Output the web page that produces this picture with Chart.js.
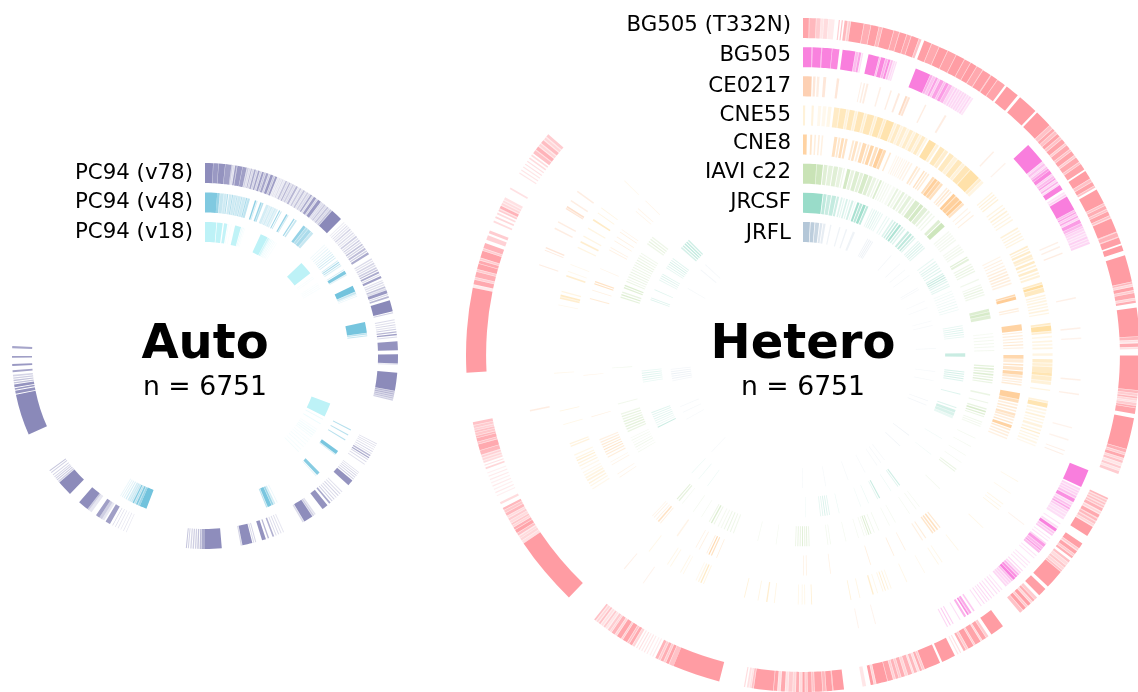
<!DOCTYPE html>
<html>
<head>
<meta charset="utf-8">
<script src="https://cdn.jsdelivr.net/npm/chart.js@4"></script>
<style>
html,body{margin:0;padding:0;background:#fff;overflow:hidden;width:1138px;height:692px}
#page{position:relative;width:1138px;height:692px;overflow:hidden;font-family:"DejaVu Sans",sans-serif;color:#000}
canvas{position:absolute}
.t{position:absolute;white-space:nowrap;line-height:1}
.lab{font-size:21.33px;transform:translate(-100%,-50%)}
.big{font-size:48px;font-weight:bold;transform:translate(-50%,-50%)}
.n{font-size:26.67px;transform:translate(-50%,-50%)}
</style>
</head>
<body>
<div id="page">
<canvas id="auto"></canvas>
<canvas id="hetero"></canvas>
</div>
<script>
// Each ring is a flat list: arc start (deg clockwise from top), arc end, intensity 0..1
const autoLabels = ["PC94 (v78)", "PC94 (v48)", "PC94 (v18)"];
const heteroLabels = ["BG505 (T332N)", "BG505", "CE0217", "CNE55", "CNE8", "IAVI c22", "JRCSF", "JRFL"];
const autoColors = ["136,135,184", "114,195,221", "189,242,247"];
const heteroColors = ["255,154,161", "249,123,220", "252,196,160", "255,222,160", "255,200,140", "198,226,178", "147,218,198", "176,196,214"];
const titles = ["Auto", "Hetero"];
const counts = [6751, 6751];

const v78 = [0,2.4,.95, 2.5,4,.85, 4.1,6,.9, 6.1,7.9,.8, 7.9,8.3,.4, 8.5,8.8,.3, 9,9.5,.8, 9.7,11.2,.85, 11.3,12.5,.8,
 12.7,13.1,.4, 13.3,13.6,.3, 13.8,14.1,.6, 14.3,14.6,.35, 14.8,15.3,.7, 15.5,15.8,.4, 16,16.5,.75, 16.7,17,.4, 17.2,17.8,.8, 18,18.3,.5, 18.5,19.2,.75, 19.4,19.7,.4, 19.9,20.7,.85, 20.9,21.2,.5, 21.4,22,.8,
 22.2,22.5,.2, 22.7,23,.25, 23.2,23.5,.2, 23.7,24,.3, 24.2,24.5,.2, 24.7,25.2,.5, 25.4,25.7,.3, 25.9,26.3,.6, 26.5,26.8,.3, 27,27.5,.4, 27.7,28,.3, 28.2,28.8,.6, 29,29.3,.2, 29.5,30,.45, 30.2,30.5,.25, 30.7,31.2,.5, 31.4,31.7,.25, 31.9,32.4,.4,
 32.6,33,.3, 33.2,33.7,.7, 33.9,34.2,.3, 34.4,35.2,.8, 35.4,35.7,.4, 35.9,36.9,.85, 37.1,37.4,.3,
 37.6,38,.3, 38.2,38.6,.45, 38.8,39.1,.3, 39.3,39.8,.5, 40,40.3,.35, 40.5,41,.5, 41.2,44.8,.98,
 46,46.3,.15, 46.7,47,.2, 47.4,47.7,.3, 48,48.4,.2, 48.7,49.1,.35, 49.4,49.8,.2, 50.1,50.5,.3, 50.8,51.2,.2, 51.5,52,.4, 52.3,52.7,.25, 53,53.4,.4, 53.7,54.1,.3, 54.4,54.9,.5, 55.2,55.6,.35, 55.9,56.5,.55, 56.8,57.2,.4, 57.5,58.2,.7,
 59.6,60,.3, 60.3,60.7,.25, 61,61.5,.35, 61.8,62.2,.3, 62.5,63,.4, 63.3,63.7,.55, 64,64.6,.7, 64.9,65.2,.3, 65.5,66.2,.8,
 66.8,67.1,.25, 67.4,67.8,.3, 68.1,68.5,.25, 68.8,69.3,.5, 69.5,69.9,.3, 70.1,71,.85, 71.3,71.6,.35, 71.9,72.4,.6,
 73.2,76.6,.98, 76.9,77.2,.4,
 79,79.3,.3, 79.8,80.1,.25, 80.5,80.8,.35, 81.2,81.5,.25, 81.9,82.2,.4, 82.6,83,.6, 83.4,83.8,.8, 84.2,84.5,.3,
 85.6,88.3,.9, 89.5,92.2,.95, 92.4,92.7,.2,
 95,100.4,.97, 100.6,101,.6, 101.2,101.6,.6, 101.8,102.2,.55, 102.4,102.8,.5, 103,103.4,.4,
 117,117.2,.3, 117.6,117.8,.35, 118.2,118.4,.3, 118.9,119.1,.3, 119.6,119.8,.4, 120.3,120.5,.3, 120.9,121.3,.6, 121.6,122,.7, 122.3,122.6,.35, 123.1,123.4,.3, 124,124.3,.25,
 127,127.2,.3, 127.6,127.8,.35, 128.2,128.4,.4, 128.8,129.1,.35, 129.5,129.8,.4, 130.2,132,.9,
 134.6,134.9,.25, 135.4,135.7,.3, 136.2,136.5,.35, 137,137.3,.3, 137.8,138.1,.35, 138.6,138.9,.4, 139.4,139.9,.7, 140.6,142.5,.9,
 145,145.4,.25, 145.6,146,.4, 146.2,149,.95, 149.2,149.6,.3,
 155.8,156.1,.2, 156.6,156.9,.25, 157.4,157.7,.3, 158.2,158.5,.3, 159,159.5,.65, 160.6,161,.6, 161.6,162.8,.9,
 164.6,164.9,.35, 165.2,165.5,.3, 165.8,168.8,.95, 169,169.3,.35,
 175,180,.95, 180,181,.7, 181.2,181.6,.55, 181.9,182.3,.5, 182.6,183,.4, 183.3,183.7,.4, 184,184.4,.35, 184.8,185.1,.4, 185.4,185.7,.5,
 204,204.2,.2, 204.9,205.1,.25, 205.8,206,.2, 206.7,206.9,.25, 207.6,207.8,.3, 208.5,208.7,.35, 209.5,211,.8,
 211.5,212.3,.2, 212.3,213.2,.4, 213.2,214.4,.8,
 216,217,.2, 217,217.5,.4, 217.5,220.7,.95,
 224.4,229,.97, 229.2,229.6,.4, 229.9,230.2,.45, 230.5,230.8,.4, 231.1,231.4,.35, 231.8,232.1,.35, 232.7,233,.4, 233.4,233.7,.5,
 246,258.4,.98, 258.7,259.6,.9, 259.9,260.4,.85, 260.7,261.5,.9, 261.8,262.2,.5, 262.5,262.9,.5, 263.2,263.6,.4, 263.9,264.4,.35, 265.2,265.8,.75, 267,267.6,.85, 269.5,270,.8, 272.3,273,.75];

const v48 = [0,4.3,.9, 4.3,5.2,.7, 5.4,6.6,.4, 6.8,7.6,.35, 7.8,8.2,.55, 8.5,9.4,.35, 9.6,9.9,.6, 10.1,11,.35, 11.2,11.5,.5, 11.7,12.7,.35, 12.9,13.2,.55, 13.4,14.4,.35, 14.6,15,.6, 15.2,16,.45,
 17.8,18.3,.8, 18.5,18.8,.3, 19.8,20.3,.7, 20.5,21,.5,
 22,23,.3, 23.2,23.6,.25, 23.8,24.4,.3, 24.6,25,.25, 25.2,25.8,.3, 26,26.5,.25, 27,27.4,.7, 27.7,28,.4, 29.8,30.3,.75, 30.5,30.8,.35, 32.8,33.3,.65, 33.6,34.2,.4,
 37,38,.75, 38.2,39,.55, 39.2,40.4,.6, 40.6,41.5,.4,
 47,47.3,.12, 47.9,48.2,.15, 48.8,49.1,.2, 49.7,50,.2, 50.5,50.8,.25, 51.3,51.6,.3, 52.1,52.4,.35, 52.9,53.2,.35,
 54.2,54.5,.3, 54.8,55.2,.6, 55.5,55.9,.5, 56.2,56.6,.25, 58,58.3,.3, 58.6,59.8,.9, 60,60.4,.2,
 64.6,66.8,1, 67,67.6,.4, 67.8,68.1,.2, 68.4,68.7,.15,
 78,81.8,.97, 82,82.4,.5, 82.7,83.1,.4,
 116.7,117.1,.55, 118.7,119.1,.5, 120.7,121.1,.5,
 125.5,126.8,.95, 127,127.3,.3, 135.5,136.7,.85, 137,137.3,.2,
 153.6,153.9,.15, 154.5,155,.3, 155.2,155.8,.7, 156,157.4,.95, 157.6,158,.5,
 201,203.5,1, 203.5,204.2,.7, 204.4,205,.9, 205.2,205.6,.5, 205.8,206.3,.85, 206.5,206.9,.4, 207.1,207.6,.35, 207.8,208.3,.3, 208.7,209.1,.3, 209.5,209.9,.2, 210.3,210.6,.2, 211,211.3,.15];

const v18 = [0,4.9,1, 5.2,7.6,.95, 8.2,9.6,.9, 10,10.3,.15, 11.2,11.4,.15,
 13,15.6,.95, 15.9,16.3,.3, 16.6,16.9,.2, 17.2,17.5,.1,
 24.6,27.8,1, 28,28.6,.7, 28.8,29.2,.4, 29.5,29.8,.3, 30.1,30.4,.25, 30.8,31.1,.2, 31.5,31.8,.15, 32.3,32.6,.12,
 46,51.8,1, 53.6,53.9,.12, 54.4,54.7,.12, 57,57.3,.1, 57.8,58.1,.12, 58.6,58.9,.12, 59.4,59.7,.12,
 110.8,116.8,1, 118,118.4,.3, 120.2,120.6,.3, 123,123.4,.12, 124,124.5,.18, 125,125.5,.2, 126,126.5,.2, 127,127.4,.15, 128.5,128.9,.12, 129.6,130,.15, 131,131.4,.15, 132.4,132.8,.15, 134,134.4,.15, 135.4,135.8,.2];

const ring0 = [0,1,.9, 1.1,2.2,.7, 2.3,3,.5, 3.1,3.5,.25, 3.6,4.3,.35, 4.4,5.4,.2,
 6.1,6.3,.5, 6.6,6.8,.6, 7.1,7.6,.7, 7.8,8.1,.5, 8.2,10.4,.95, 10.5,11.6,.8, 11.7,13,.95, 13.1,13.6,.7, 13.7,15.6,.95, 15.7,16.6,.85, 16.7,17.9,.95, 18,18.7,.85, 18.8,20.1,.95, 20.2,20.6,.6, 21.1,22.4,.95, 22.5,23.8,.85, 23.9,25.4,.97, 25.5,27,.9, 27.1,28.6,.97, 28.7,29.8,.9, 29.9,31,.97, 31.1,32.2,.85, 32.3,33.8,.95, 34,35.2,.97, 35.3,36.8,.9, 37.2,39.6,.97, 40.1,43.6,.98, 44,47,.98,
 47.1,47.7,.6, 47.8,48.3,.85, 48.4,48.9,.6, 49,49.6,.9, 49.7,50.1,.6, 50.2,51,.9, 51.1,51.4,.5, 51.5,52.3,.85, 52.4,52.7,.6, 52.8,53.6,.9, 53.7,54,.5, 54.1,55,.85, 55.1,55.4,.6, 55.5,56.6,.9, 56.9,58.4,.97, 58.5,59,.6, 59.1,59.8,.9, 59.9,60.2,.6, 60.6,63.2,.97, 63.3,63.6,.6, 63.7,64.3,.8, 64.4,64.7,.6, 64.8,65.5,.9, 65.6,65.9,.6, 66.1,68.5,.97, 68.7,69.4,.75, 69.6,70.7,.95, 71,72,.98, 72.8,77.4,.98, 77.5,77.8,.7, 77.9,78.2,.4, 78.3,78.9,.9, 79,79.3,.5, 79.4,80.2,.85, 80.3,80.6,.4, 80.7,81.1,.8,
 81.9,86.8,.98, 86.9,87.4,.7, 87.5,87.8,.3, 88,88.6,.8, 88.7,89,.3,
 90.1,96,.98, 96.1,96.5,.7, 96.6,97,.5, 97.1,97.4,.7, 97.5,97.8,.4, 97.9,98.1,.3, 98.2,98.6,.5, 98.7,99,.8, 99.1,100.1,.9,
 100.8,106.2,.98, 106.3,106.8,.8, 106.9,107.2,.5, 107.3,107.8,.85, 107.9,108.2,.4, 108.3,108.7,.6, 108.8,109.2,.25, 109.3,109.7,.5, 109.8,110.1,.25, 110.2,110.7,.5,
 115.1,115.4,.7, 115.6,115.9,.55, 116.1,116.4,.6, 116.6,116.9,.6, 117.1,117.6,.75, 117.8,118.1,.4, 118.3,118.9,.85, 119.1,119.5,.7, 119.7,120.1,.6, 120.2,120.5,.4, 120.7,122.5,.98,
 124,125,.95, 125.1,125.4,.5, 125.6,126.2,.9, 126.3,126.6,.5, 126.7,127.1,.8,
 127.6,128,.6, 128.1,128.6,.35, 128.7,129.1,.55, 129.2,129.6,.4, 129.7,130,.6, 130.1,133.4,.98,
 134,135.5,.95, 136,136.5,.5, 136.6,137,.8, 137.1,137.4,.4, 137.5,138.1,.95, 138.2,138.5,.5, 138.6,139.2,.95, 139.3,139.9,.6,
 143.6,146,.98, 146.6,147,.5, 147.1,147.8,.9, 147.9,148.1,.4, 148.2,149.2,.9, 149.3,149.5,.5, 149.6,150.6,.95, 150.7,151,.5, 151.1,151.5,.8, 152,152.2,.3, 152.5,152.7,.25,
 153.2,155.6,.98, 156,158.8,.98, 158.9,159.2,.5, 159.3,159.7,.8, 159.8,160.1,.3, 160.2,160.7,.7, 160.8,161,.3, 161.1,161.8,.75, 161.9,162.3,.4, 162.4,163,.8, 163.1,163.4,.5, 163.5,164,.75, 164.1,164.4,.45, 164.5,165.4,.9, 165.5,167.4,.98, 167.5,167.8,.4, 167.9,168.4,.98,
 169.2,169.8,.25,
 173,174.8,.98, 175,176,.95, 176.1,176.6,.7, 176.7,178,.9, 178.1,178.4,.6, 178.5,179.2,.85, 179.3,179.6,.5, 179.7,180.1,.9, 180.2,180.6,.35, 180.7,181.2,.8, 181.3,181.7,.4, 181.8,182.5,.5, 182.6,183,.3, 183.1,183.8,.85, 183.9,184.3,.3, 184.4,185,.9, 185.1,188.4,.95, 188.5,188.8,.6, 188.9,189.1,.3, 189.3,189.6,.3, 189.9,190.1,.35,
 194.4,202.6,.98, 202.6,203.4,.6, 203.5,204,.9, 204.1,204.4,.5, 204.5,205,.8, 205.1,205.4,.5, 205.5,206,.75, 206.4,206.6,.2, 206.9,207.1,.15, 207.5,207.7,.2, 208,208.2,.25, 208.5,208.7,.2, 209,209.2,.3, 209.5,209.7,.25, 210,210.4,.4, 210.5,211,.85, 211.1,211.4,.6, 211.5,212.3,.9, 212.4,212.6,.5, 212.7,213.5,.9, 213.6,213.9,.4, 214,214.6,.75, 214.7,214.9,.4, 215,215.4,.5, 215.6,215.9,.25, 216,216.3,.5, 216.5,216.8,.3, 217,217.3,.6, 217.5,217.8,.4, 218,218.3,.6,
 224,236,.98, 236,236.5,.3, 236.6,237,.4, 237.1,237.4,.35, 237.6,238,.6, 238.1,238.7,.9, 238.8,239.2,.8, 239.3,239.6,.4, 239.7,240,.55, 240.1,240.5,.35, 240.6,241,.5, 241.1,241.4,.35, 241.5,242,.7, 242.1,242.5,.55, 242.6,243,.7,
 243.7,244.1,.35, 245.2,245.4,.15, 245.8,246,.2, 246.4,246.6,.15, 247,247.2,.2, 247.6,247.8,.15, 248.2,248.4,.2, 248.8,249,.2, 249.4,249.6,.15,
 250.2,250.5,.4, 250.8,251,.3, 251.3,251.6,.35, 251.8,252.1,.4, 252.3,252.6,.45, 252.8,253.5,.7, 253.6,254.6,.85, 254.7,255,.6, 255.1,255.7,.8, 255.8,256.1,.7, 256.2,256.6,.55, 256.7,257,.6, 257.1,257.4,.45, 257.5,257.9,.5, 258,258.5,.6,
 267,281.5,.98, 281.5,282,.2, 282.1,282.9,.85, 283,283.3,.45, 283.4,284.3,.8, 284.4,284.7,.5, 284.8,285.7,.9, 285.8,286.3,.85, 286.4,286.7,.5, 286.8,288,.92, 288.1,288.4,.5, 288.5,289.4,.75,
 290,290.8,.45, 291.2,291.7,.5, 293.2,293.5,.35, 294,294.3,.4, 294.7,295,.35, 295.3,295.6,.5, 295.8,296.3,.75, 296.5,296.8,.4, 297,297.3,.35, 297.5,297.9,.3, 299.5,299.8,.3,
 302.6,302.8,.25, 303.2,303.4,.25, 303.8,304,.25, 304.4,304.6,.3, 305,305.2,.3, 305.6,305.9,.35, 306.2,306.5,.35, 306.8,307.4,.6, 307.6,308.2,.75, 308.4,308.8,.4, 309,309.6,.65, 309.8,310.2,.4, 310.4,310.9,.5];

const ring1 = [0,1.6,.95, 1.8,3.4,.95, 3.6,5.4,.95, 5.5,6.8,.9,
 7.4,9.8,.98, 9.9,10.4,.5, 10.5,10.9,.7, 11.1,11.3,.25,
 12.3,14.3,.97, 14.4,14.6,.5, 14.7,15.5,.9, 15.6,16,.6, 16.1,16.5,.85, 16.7,17,.5, 17.2,17.4,.3, 17.6,17.8,.25,
 21.5,24.4,.98, 24.5,24.9,.6, 25,25.5,.45, 25.6,26,.7, 26.1,26.4,.4, 26.5,27.2,.7, 27.3,27.6,.5, 27.7,28.3,.75, 28.4,29,.55, 29.1,29.6,.3, 29.8,30.1,.35, 30.3,30.6,.3, 30.8,31.1,.3, 31.3,31.6,.3, 31.8,32.1,.3, 32.3,32.6,.25, 32.8,33.1,.3, 33.3,33.6,.2,
 47,51,.98, 51.1,51.4,.3, 51.5,51.9,.45, 52,52.2,.3, 52.3,52.6,.5, 52.7,53.1,.75, 53.2,53.9,.9, 54,54.3,.35, 54.4,54.8,.5, 54.9,55.2,.7, 55.3,55.6,.3, 55.7,56,.6, 56.2,56.4,.3, 56.5,57.5,.95,
 58,58.3,.2, 58.5,58.8,.35, 59,61.8,.98, 61.9,62.2,.5, 62.3,62.6,.7, 62.7,63,.4, 63.1,63.4,.65, 63.5,63.8,.3, 63.9,64.6,.75, 64.7,65.2,.55, 65.3,65.6,.4, 65.7,66.1,.3, 66.3,66.6,.3, 66.8,67.1,.25, 67.3,67.7,.35, 67.9,68.2,.3, 68.4,68.8,.3,
 112,115.4,.98, 115.7,116.1,.3, 116.3,116.6,.35, 116.8,117.1,.35, 117.3,117.7,.45, 117.9,118.6,.85, 118.8,119.1,.3, 119.3,119.6,.5, 119.8,120.1,.65, 120.3,120.6,.4, 120.8,121.1,.25, 121.3,121.7,.25, 121.9,122.3,.25,
 123.2,123.4,.2, 123.9,124.2,.25, 124.4,125,.95, 125.2,125.5,.45, 125.7,126,.4, 126.5,126.7,.2, 127.1,127.3,.2, 127.7,128,.3,
 128,128.6,.75, 128.7,129.1,.55, 129.2,129.5,.7, 129.6,130,.5, 130.6,130.8,.2, 131.2,131.4,.2, 132.4,132.6,.2, 133,133.2,.2, 133.6,133.8,.2,
 134.4,134.6,.3, 134.9,135.2,.3, 135.4,135.7,.6, 135.9,136.3,.85, 136.4,136.9,.95, 137,137.3,.5, 137.5,137.8,.35, 138,138.3,.3, 138.5,138.8,.3, 139.6,139.8,.2, 140.2,140.4,.25, 140.8,141,.25,
 141.5,141.7,.25, 142.1,142.3,.3, 142.7,142.9,.3, 143.2,143.4,.25, 143.8,144,.3, 144.5,144.7,.25,
 146.1,146.4,.4, 146.8,147.2,.65, 147.4,147.7,.85, 148,148.4,.6, 149.2,149.4,.25, 150.7,150.9,.35, 151.3,151.5,.4, 151.9,152.1,.3];

const ring2 = [0,1.8,.8, 2.1,2.6,.4, 2.9,3.4,.3, 4.2,4.8,.4, 7,7.5,.4, 12,12.2,.25, 12.6,12.9,.3, 13.2,13.6,.3, 16,16.3,.25, 18.3,18.6,.3, 20,20.4,.35, 21.6,22,.6, 22.2,22.6,.45, 26,26.3,.3, 30.6,31,.3, 43,43.3,.25, 46.4,46.7,.2,
 66,66.3,.25, 67,67.3,.25, 68.4,68.7,.3, 78,78.3,.25, 84.3,84.6,.25, 86.4,86.7,.2, 95,95.3,.25, 98,98.3,.25, 105,105.3,.2, 107.6,107.9,.2, 110,110.2,.25, 110.8,111,.25, 127.4,127.6,.2, 164.8,165,.2, 168.4,168.6,.2, 214.9,215.1,.2, 219.8,220,.25, 258.3,258.6,.3, 288.8,289,.3, 292,292.2,.35, 292.5,292.8,.4, 296.9,297.2,.3, 298.4,298.7,.3, 301.6,301.8,.45, 302,302.3,.55, 303.5,303.8,.3, 305.8,306.1,.3];

const ring3 = [0,.5,.4, 2,2.5,.35, 3.5,4.2,.2, 4.6,5.4,.2, 5.8,6.6,.25, 7.2,8.4,.6, 8.6,10,.7, 10.2,10.6,.4, 10.8,12,.7, 12.2,12.6,.4, 12.8,14.2,.75, 14.4,14.8,.45, 15,16.6,.75, 16.8,17.2,.45, 17.4,18.8,.8, 19,19.4,.5, 19.6,21.4,.85, 21.6,22,.4, 22.2,23,.6, 23.2,23.6,.35, 23.8,24.6,.5, 24.8,25.2,.3, 25.4,26.2,.55, 26.4,26.8,.35, 27,27.8,.6, 28,28.4,.35, 28.6,29.4,.6, 29.6,30,.3, 30.4,32.2,.9, 32.4,33,.4, 33.4,34.6,.7, 34.8,35.6,.5, 36,37.2,.65, 37.4,38.2,.4, 38.4,39.6,.7, 39.8,40.4,.4, 40.6,42,.75, 42.2,44.8,.9, 45,45.6,.5, 45.8,46.4,.3,
 49.2,49.5,.3, 49.9,50.2,.4, 50.6,50.9,.35, 51.3,51.6,.4, 53,53.3,.3, 53.8,54.1,.35, 54.6,55,.4, 55.4,55.7,.3, 56.2,56.5,.3, 57,57.3,.3,
 59.2,59.6,.4, 60,60.3,.3, 60.7,61,.35, 61.4,61.7,.3, 62.1,62.4,.3, 64,64.4,.5, 64.7,65,.4, 65.3,65.8,.55, 66.2,66.8,.5, 67,67.4,.45, 67.8,68.4,.6, 68.8,69.2,.45, 69.6,70.2,.55, 70.6,71,.4, 71.3,71.8,.4,
 73,73.4,.6, 73.6,74.2,1, 74.4,75.4,.65, 76,76.3,.35, 76.6,76.9,.3, 77.2,77.6,.3, 78,78.3,.3, 78.7,79,.3, 79.4,79.8,.35, 80.2,80.5,.3,
 82.6,83,.6, 83.2,84.4,.95, 84.6,85,.5, 85.6,86,.25, 86.6,87,.3, 87.4,87.8,.25, 88.2,88.6,.3, 89.6,90.2,.3,
 91,91.8,.55, 92,92.6,.45, 92.8,94.2,.6, 94.2,94.8,.8, 95,96,.55, 96.2,96.9,.4, 98,98.3,.3,
 100.6,101,.4, 101.2,102.2,.8, 102.6,103,.3, 103.4,103.8,.25, 104.2,104.6,.4, 105,105.3,.25, 105.7,106,.3, 106.4,107,.35, 107.4,107.8,.3, 108.2,108.5,.5, 109,109.3,.3, 109.7,110,.25, 110.4,110.8,.25, 111.2,111.5,.2,
 120.4,120.6,.25, 123.6,123.8,.2, 126.6,126.8,.25, 127.4,127.6,.25, 128.2,128.4,.3, 133.7,133.9,.25, 141.4,141.6,.25, 146,146.2,.25, 147,147.2,.25, 150.7,150.9,.2, 155.3,155.5,.25, 159.2,159.4,.25, 159.9,160.1,.4, 160.6,160.8,.5, 161.2,161.4,.3, 162.5,162.7,.25, 163.5,163.8,.5, 166.7,166.9,.3, 168.8,169,.4, 177.9,178.1,.45, 179.5,179.7,.25, 180.1,180.3,.25, 181,181.2,.25, 186.5,186.7,.3, 188.2,188.5,.5, 190.3,190.5,.3, 193.5,193.7,.4,
 203.4,203.6,.3, 204,204.3,.6, 204.6,204.9,.3, 205.3,205.5,.2, 208.6,208.8,.2, 209.3,209.5,.25, 212,212.2,.25, 212.8,213,.25, 218,218.2,.25,
 237.4,237.7,.2, 238.2,238.5,.25, 238.9,239.2,.35, 239.6,240,.35, 240.3,240.7,.3, 241,241.3,.25, 241.7,242,.2, 242.6,242.9,.2, 243.4,243.7,.3, 244.1,244.4,.35, 244.8,245.1,.45, 245.4,245.7,.3, 246.2,246.5,.25, 248.4,248.7,.35, 249,249.3,.35, 253.7,253.9,.25, 256.9,257.1,.3,
 265.7,265.9,.2, 281.5,281.7,.2, 283,283.4,.5, 283.6,284,.6, 284.6,284.9,.3, 288.3,288.7,.5, 289.5,289.7,.2, 291.2,291.4,.2, 295.4,295.7,.3, 296.8,297.2,.5, 298.3,298.6,.3, 300.4,300.7,.3, 302.6,303,.6, 304.6,304.8,.3, 306,306.2,.3, 314.2,314.4,.2];

const ring4 = [0,1,.8, 1.9,2.4,.45, 3,3.4,.3, 4,4.4,.3, 4.9,5.3,.25, 8.2,9,.55, 9.3,9.8,.4, 10.1,10.8,.6, 11.1,11.7,.5, 13,13.5,.4, 13.8,14.5,.5, 14.9,15.4,.3, 15.8,16.8,.65, 17.1,17.6,.45, 17.9,18.8,.75, 19.2,20,.55, 20.3,21.3,.85, 21.5,22.2,.65, 23.2,23.6,.4, 25,25.3,.15, 25.6,25.9,.2, 26.2,26.5,.15, 26.8,27.1,.2, 27.4,27.7,.15, 28,28.3,.2, 28.6,29,.2, 29.4,29.8,.2, 31,31.5,.4, 31.8,32.2,.3, 33.2,33.6,.5, 33.9,34.3,.4, 34.6,35,.35, 36,36.6,.6, 36.8,37.6,.85, 37.8,38.6,.75, 38.8,39.4,.55, 40.6,41,.3, 41.3,41.7,.4, 42,42.4,.3, 43,43.8,.9, 44,45.2,.85, 45.4,46.2,.9, 46.4,47,.5, 48.2,48.5,.2, 49.3,49.6,.25, 50.5,50.8,.25,
 63.4,63.7,.2, 64.3,64.6,.25, 65.1,65.4,.25, 66,66.3,.25, 66.8,67.2,.3, 67.6,68,.3, 68.4,68.8,.35, 69.2,69.6,.3, 70,70.4,.3, 70.8,71.2,.25, 74,74.4,.7, 74.6,75.4,.9, 77.6,78,.3, 78.3,78.6,.25,
 82,83.6,.8, 84,84.3,.3, 84.8,85.1,.3, 85.6,85.9,.3, 86.4,86.7,.35, 87.2,87.5,.4, 88,88.3,.25, 90,91,.7, 91.2,92,.35, 92.4,92.8,.5, 93.1,94,.45, 94.3,95.2,.75, 95.4,96,.4, 96.3,96.7,.3, 97,97.3,.3, 97.6,98,.35,
 100,101.6,.85, 101.8,102.6,.6, 103,103.4,.3, 103.8,104.2,.4, 104.6,105,.35, 105.4,106,.5, 106.2,106.7,.4, 107,107.4,.3, 107.8,108.2,.45, 108.6,109.4,.8, 109.7,110.1,.4, 110.5,110.9,.3, 111.3,111.7,.3, 112.1,112.5,.25,
 141.4,141.7,.4, 142.2,142.6,.55, 143,143.4,.5, 143.7,144.1,.45, 146,146.3,.3, 147,147.3,.25, 152.2,152.4,.25, 155.5,155.7,.3, 162,162.2,.3, 172.7,172.9,.25, 179,179.2,.25, 179.8,180,.25, 203,203.2,.3, 204.4,204.7,.55, 205.1,205.4,.7, 205.8,206,.3, 208,208.2,.25, 209,209.2,.25, 214.6,215,.2, 220.2,220.4,.3, 220.8,221.2,.5, 221.6,221.8,.3, 222.4,222.6,.25, 223,223.2,.2,
 236.2,236.4,.2, 237.2,237.4,.2, 240,240.2,.2, 240.8,241,.2, 242.2,242.5,.3, 243,243.3,.35, 243.7,244,.4, 244.4,244.7,.45, 245.1,245.4,.4, 245.8,246.1,.35, 246.5,246.8,.3, 247.2,247.5,.25, 253.6,253.8,.25, 264.6,264.8,.2, 284.7,285,.35, 287,287.2,.25, 288.7,289,.55, 289.3,289.6,.5, 293,293.2,.2, 298.4,298.6,.25, 299.1,299.3,.25, 301.1,301.3,.3, 302.3,302.5,.25, 303.8,304,.3, 304.6,304.8,.2, 310.6,310.8,.2, 311.5,311.7,.2, 314.3,314.5,.2];

const ring5 = [0,4,.95, 4.2,6,.85, 6.3,7.4,.55, 7.7,9,.45, 9.3,10.6,.55, 10.9,12,.4, 12.3,12.7,.3, 13.4,14.4,.75, 14.7,15.6,.4, 16,17.2,.6, 17.5,18.4,.45, 18.7,20,.7, 20.3,21.4,.55, 21.7,22.6,.35, 23,23.4,.3, 23.8,24.4,.6, 24.8,25.2,.25, 25.6,26,.2, 26.4,26.8,.2, 27.2,27.6,.15, 28.2,29,.15, 29.4,30,.4, 30.4,31,.25, 31.4,32.2,.45, 32.6,33.2,.3, 33.6,34.6,.45, 35,35.6,.3, 36,37.6,.65, 37.9,39,.75, 39.3,40.6,.5, 41,41.6,.35, 42.2,42.6,.25, 43.2,43.6,.25, 45,46,.55, 46.3,47.8,.85, 49.6,50,.2, 50.4,50.8,.2, 51.2,51.6,.2, 52,52.4,.2, 52.8,53.2,.2, 54.6,55,.2, 55.4,55.8,.2, 56.2,56.6,.25, 57,57.4,.2,
 59,59.4,.5, 59.7,60.3,.45, 61.4,61.8,.3, 62.2,62.6,.35, 63,63.4,.35, 63.8,64.2,.3, 66.5,66.9,.25, 68.3,68.6,.25, 69,69.4,.3, 69.8,70.2,.35, 70.6,71,.3, 71.4,71.8,.25, 76,76.8,.6, 77,77.8,.7, 78,79,.55, 83.4,83.7,.15, 84.4,84.7,.2, 85.4,85.7,.2, 86.4,86.7,.2, 87.4,87.7,.2, 88.5,88.8,.2,
 93.2,93.6,.45, 94,94.5,.55, 94.9,95.3,.4, 95.7,96.2,.55, 96.6,97,.4, 97.4,97.8,.5, 98.2,98.6,.35, 101.8,102.3,.35, 104.4,104.7,.3, 106.2,106.6,.4, 107,107.5,.65, 107.9,108.3,.55, 108.7,109,.35, 110.4,110.7,.25, 111.1,111.4,.25, 111.8,112.1,.2,
 115.7,115.9,.25, 118.5,118.7,.2, 121.6,121.8,.2, 124.1,124.3,.2, 126.6,126.9,.35, 127.3,127.6,.35, 134.2,134.5,.2, 142.4,142.6,.2, 143.6,143.8,.2, 146,146.2,.2, 151,151.2,.2, 153,153.2,.2, 156.5,156.7,.25, 158,158.2,.3, 159,159.3,.5, 159.7,160,.6, 160.4,160.6,.3, 161.2,161.4,.25, 163,163.2,.2, 166.9,167.1,.2, 171.6,171.8,.25, 172.4,172.6,.25,
 178,178.3,.35, 178.7,179,.45, 179.3,179.6,.4, 180,180.3,.55, 180.7,181,.4, 181.4,181.7,.4, 182.1,182.4,.3, 188,188.2,.2, 193.6,193.8,.2, 201.2,201.5,.25, 202.2,202.5,.3, 203.2,203.5,.35, 204.2,204.5,.3, 205.2,205.5,.2, 206.2,206.5,.2,
 207.6,207.9,.3, 208.4,208.8,.6, 209.2,209.5,.3, 212,212.2,.2, 214.9,215.1,.2, 219,219.2,.2, 220.2,220.6,.4, 221,221.3,.5, 239.4,239.6,.2, 240.2,240.4,.2, 241,241.3,.25, 241.8,242,.25, 242.6,242.8,.2, 243.4,243.6,.25, 244.2,244.4,.2, 246.2,246.6,.35, 247,247.4,.4, 247.8,248.2,.45, 248.6,249,.4, 249.4,249.8,.45, 250.2,250.6,.35, 251,251.4,.4, 251.8,252.2,.3, 255,255.3,.25, 266,266.2,.25, 287.4,287.8,.45, 288.2,288.6,.6, 289,289.4,.4, 290.4,290.8,.55, 291.1,291.5,.6, 292.5,292.8,.35, 293.2,293.5,.3, 294,294.3,.35, 294.8,295.1,.3, 295.6,295.9,.4, 296.4,296.7,.3, 297.2,297.5,.35, 298,298.3,.3, 298.8,299.1,.4, 299.6,299.9,.35, 300.4,300.7,.3, 301.2,301.5,.3, 302,302.3,.25, 305.4,305.8,.3, 306.2,306.6,.4, 307,307.4,.35, 307.8,308.2,.3];

const ring6 = [0,7,.95, 7.3,8.4,.6, 8.7,10,.5, 10.3,11.8,.55, 12.1,12.9,.45, 13.6,14.2,.3, 14.6,15,.25, 15.5,16.1,.35, 16.6,17,.25, 17.5,18.2,.4, 18.7,19,.2, 19.6,20.4,.8, 20.7,21.5,.65, 21.8,22.8,.85, 23.1,23.8,.6, 25.2,25.6,.2, 26,26.4,.25, 26.8,27.2,.3, 27.6,28,.25, 28.4,28.8,.2, 29.2,29.6,.2, 31,31.4,.2, 32,32.4,.2, 33.4,34,.3, 34.4,35,.45, 35.4,36,.6, 36.4,37.2,.75, 37.6,38.2,.4, 38.6,39.2,.3, 40.2,41,.5, 41.4,42.2,.6, 42.6,43.2,.5, 43.6,44,.3, 45.2,45.6,.25, 46,46.4,.3, 46.8,47.2,.35, 47.6,48,.3, 48.4,48.8,.25,
 53.4,53.8,.2, 54.6,55,.25, 55.6,56,.3, 56.4,56.8,.25, 57.4,57.8,.3, 58.4,58.8,.3, 59.6,60,.35, 60.4,60.8,.5, 61.2,61.6,.5, 62,62.4,.35, 62.8,63.2,.3, 63.8,64.2,.25, 64.6,65,.25, 66.6,66.9,.12, 67.6,67.9,.15, 68.6,68.9,.15, 69.6,69.9,.15, 70.6,70.9,.15, 71.6,71.9,.2, 72.6,72.9,.2, 73.6,73.9,.15, 79.4,79.7,.25, 80.2,80.5,.3, 81,81.3,.3, 81.8,82.1,.3, 82.6,82.9,.25, 83.4,83.7,.2,
 89.4,90.6,.5, 95.8,96.2,.35, 96.6,97,.4, 97.4,97.8,.35, 98.2,98.6,.4, 99,99.4,.3, 103.8,104.2,.3, 108.8,109.2,.3, 109.8,110.8,.4, 111,112,.35, 112.2,113,.2, 121,121.2,.15, 127.7,127.9,.15, 143.2,143.6,.45, 144,144.3,.3, 147,147.2,.2, 151.6,152,.5, 152.4,152.7,.25, 156,156.2,.2, 159,159.2,.15, 167,167.2,.2, 170.4,170.7,.3, 171.2,171.5,.35, 172,172.3,.4, 172.8,173.1,.3, 173.6,173.9,.25, 179,179.2,.15,
 216,216.2,.2, 220,220.2,.2, 223.2,223.4,.2, 243.4,243.7,.5, 244.2,244.5,.2, 245,245.3,.25, 245.8,246.1,.25, 246.6,246.9,.3, 247.4,247.7,.3, 248.2,248.5,.3, 249,249.3,.3, 260.2,260.5,.2, 261,261.3,.25, 261.8,262.1,.3, 262.6,262.9,.3, 263.4,263.7,.3, 264.2,264.5,.2, 289.8,290.1,.35, 290.5,290.8,.3, 293.6,293.9,.3, 297.4,297.7,.25, 298.2,298.5,.3, 299,299.3,.35, 299.8,300.1,.3, 302.4,302.7,.25, 303.2,303.5,.3, 304,304.3,.35, 304.8,305.1,.4, 305.6,305.9,.4, 306.4,306.7,.3, 311.2,311.7,.4, 312.1,312.6,.5, 313,313.5,.6, 313.9,314.4,.55, 314.8,315.3,.45];

const ring7 = [0,3,.95, 3.3,5,.85, 5.3,7,.7, 7.4,8.4,.4, 8.8,9.8,.3, 11.8,12.4,.2, 15.8,16.4,.2, 18.8,19.4,.2, 22,23,.2, 29,29.4,.2, 29.8,30.2,.25, 30.6,31,.25, 31.4,31.8,.2, 41.4,41.7,.15, 46.6,46.9,.15, 50,50.3,.12, 53,53.3,.12, 59.5,59.8,.15, 60.4,60.7,.12, 66,66.3,.1, 69,69.3,.1, 75,75.3,.1, 77,77.3,.1, 87,87.3,.12, 97,97.3,.12, 101,101.3,.12, 110,110.3,.15, 112,112.3,.15, 127,127.3,.2, 133,133.3,.2, 142,142.3,.12, 144,144.3,.15, 146,146.3,.12, 152,152.3,.12, 160,160.3,.12, 170,170.3,.12, 180,180.3,.12,
 223.2,223.5,.12, 241,241.3,.12, 244.3,244.6,.12, 247,247.3,.12, 258.6,259,.15, 259.6,260,.2, 260.6,261,.2, 261.6,262,.25, 262.6,263,.2, 263.6,264,.15, 299.9,300.2,.12, 309.6,310,.15, 312.6,313,.12];

const autoRings = [v78, v48, v18];
const heteroRings = [ring0, ring1, ring2, ring3, ring4, ring5, ring6, ring7];

const softGap = 0.21; // narrow gaps inside a cluster keep a pale tint
function buildRing(spans, rgb) {
  const data = [], colors = [];
  let pos = 0, prev = 0;
  for (let i = 0; i < spans.length; i += 3) {
    const [a, b, level] = [spans[i], spans[i + 1], spans[i + 2]];
    if (a > pos) {
      data.push(a - pos);
      colors.push(prev && a - pos <= softGap ? `rgba(${rgb},${0.5 * Math.min(prev, level)})` : "rgba(0,0,0,0)");
    }
    data.push(b - a); colors.push(`rgba(${rgb},${level})`);
    pos = b; prev = level;
  }
  data.push(360 - pos); colors.push("rgba(0,0,0,0)");
  return { data, backgroundColor: colors, borderWidth: 0, weight: 20 };
}

function drawRings(id, rings, palette, left, top, radius, inner, gap) {
  const cv = document.getElementById(id);
  cv.width = cv.height = radius * 2;
  cv.style.left = left + "px"; cv.style.top = top + "px";
  const datasets = [];
  rings.forEach((r, i) => {
    datasets.push(buildRing(r, palette[i]));
    if (i < rings.length - 1) datasets.push({ data: [1], backgroundColor: ["rgba(0,0,0,0)"], borderWidth: 0, weight: gap });
  });
  new Chart(cv, {
    type: "doughnut",
    data: { datasets },
    options: {
      responsive: false, animation: false, cutout: inner,
      layout: { padding: 0 },
      plugins: { legend: { display: false }, tooltip: { enabled: false } }
    }
  });
}

drawRings("auto", autoRings, autoColors, 205 - 193, 356 - 193, 193, 114, 9.5);
drawRings("hetero", heteroRings, heteroColors, 803 - 337, 355 - 337, 337, 113, 9);

const page = document.getElementById("page");
function addText(cls, txt, x, y) {
  const d = document.createElement("div");
  d.className = "t " + cls; d.textContent = txt;
  d.style.left = x + "px"; d.style.top = y + "px";
  page.appendChild(d);
}
[172, 201, 231].forEach((y, i) => addText("lab", autoLabels[i], 193, y));
[24, 54, 85, 114, 142, 171, 201, 232].forEach((y, i) => addText("lab", heteroLabels[i], 791, y));
addText("big", titles[0], 205, 341);
addText("n", "n = " + counts[0], 205, 386);
addText("big", titles[1], 803, 341);
addText("n", "n = " + counts[1], 803, 386);
</script>
</body>
</html>
